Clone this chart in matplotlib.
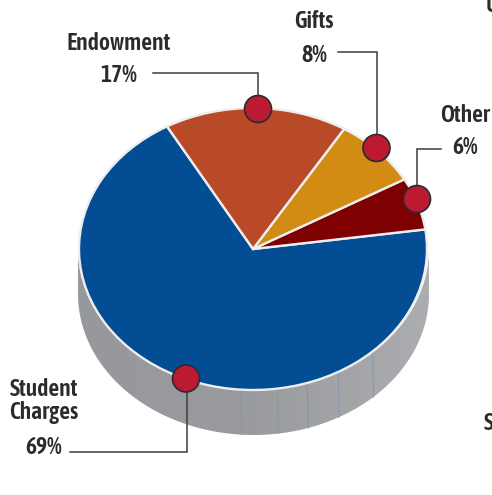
import numpy as np
import matplotlib.pyplot as plt
from matplotlib.patches import Ellipse, PathPatch
from matplotlib.path import Path
from matplotlib.transforms import Affine2D
from matplotlib.colors import LinearSegmentedColormap

# Share of revenue by source, running counterclockwise
sources = ['Student\nCharges', 'Other', 'Gifts', 'Endowment']
shares = [69, 6, 8, 17]
share_labels = ['69%', '6%', '8%', '17%']
slice_colors = ['#024d94', '#7f0000', '#d28c13', '#b94a27']

# Pie geometry, in pixels
cx, cy = 253, 249
rx, ry = 174, 141
depth = 45
seam_angles = [-94, -82, -72, -61, -47]

plt.rcParams['font.family'] = ['Asap Condensed', 'Roboto', 'DejaVu Sans']

fig = plt.figure(figsize=(4.92, 4.95), dpi=100)
ax = fig.add_axes([0, 0, 1, 1])

wedges, _ = ax.pie(shares, startangle=119.6, radius=rx, center=(0, 0),
                   colors=slice_colors,
                   wedgeprops={'edgecolor': '#eeeeef', 'linewidth': 1.7, 'zorder': 3})
squash = Affine2D().scale(1, -ry / rx).translate(cx, cy) + ax.transData
for w in wedges:
    w.set_transform(squash)

ax.set_aspect('auto')

# Side wall: half ring between the top ellipse and the same ellipse moved down
t = np.radians(np.linspace(180, 360, 200))
wall_rx = rx + 1.5
top_edge = np.column_stack([cx + 0.5 + wall_rx * np.cos(t), cy - ry * np.sin(t)])
low_edge = np.column_stack([cx + 0.5 + wall_rx * np.cos(t), cy + depth - ry * np.sin(t)])
outline = np.vstack([top_edge, low_edge[::-1], top_edge[:1]])
wall_path = Path(outline)
wall_cmap = LinearSegmentedColormap.from_list('wall', ['#97989b', '#9a9b9e', '#acadb1'])
im = ax.imshow(np.linspace(0, 1, 256).reshape(1, -1), extent=(77, 431, 440, 245),
               cmap=wall_cmap, aspect='auto', zorder=1)
im.set_clip_path(PathPatch(wall_path, transform=ax.transData))
ax.set_xlim(0, 492)
ax.set_ylim(495, 0)
ax.axis('off')

for a in seam_angles:
    th = np.radians(a)
    x = cx + wall_rx * np.cos(th)
    y = cy - ry * np.sin(th)
    ax.plot([x, x + 1], [y, y + depth], color='#8696ab', lw=0.7, zorder=2)

# Leader lines and the dots at their ends
leaders = [
    ([70, 186.5, 186.5], [452, 452, 391]),
    ([153, 258, 258], [72.5, 72.5, 96]),
    ([338, 377, 377], [51.5, 51.5, 135]),
    ([441, 416.5, 416.5], [148.5, 148.5, 186]),
]
dots = [(186, 378.5), (258, 109), (376.5, 148), (417, 199)]
for xs, ys in leaders:
    ax.plot(xs, ys, color='#3d3d40', lw=1.1, zorder=5, solid_joinstyle='miter')
for d in dots:
    ax.add_patch(Ellipse(d, 27, 27, fc='#bb1a30', ec='#2b2b30', lw=1.2, zorder=6))

txt = dict(color='#2b2b2d', fontweight=600, fontsize=17, zorder=7)
ax.text(44, 401, sources[0], ha='center', va='center', linespacing=1.0, **txt)
ax.text(44, 447, share_labels[0], ha='center', va='center', **txt)
ax.text(119, 43, sources[3], ha='center', va='center', **txt)
ax.text(119, 76, share_labels[3], ha='center', va='center', **txt)
ax.text(314, 21, sources[2], ha='center', va='center', **txt)
ax.text(314, 55, share_labels[2], ha='center', va='center', **txt)
ax.text(465, 115, sources[1], ha='center', va='center', **txt)
ax.text(465, 148, share_labels[1], ha='center', va='center', **txt)

# Neighbouring labels cut off by the edge of the figure
ax.text(486, 5, 'U', ha='left', va='center', **txt)
ax.text(484, 424, 'S', ha='left', va='center', **txt)

fig.savefig('out.png', dpi=100)
